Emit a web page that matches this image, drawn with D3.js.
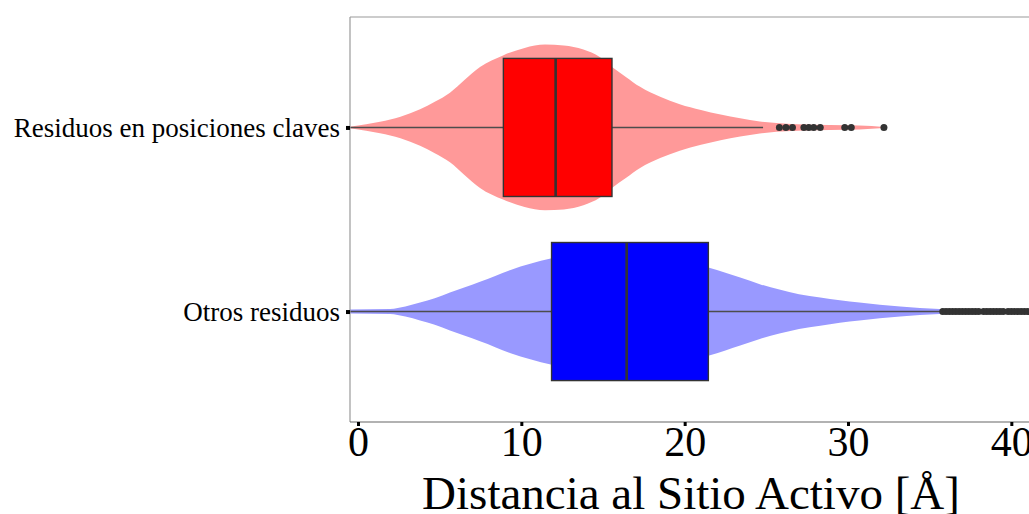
<!DOCTYPE html>
<html><head><meta charset="utf-8">
<script src="https://cdn.jsdelivr.net/npm/d3@7"></script>
<style>body{margin:0;background:#fff}svg{display:block}</style>
</head><body>
<svg id="chart" width="1029" height="514"></svg>
<script>
// ---- data ----
const categories = ["Residuos en posiciones claves", "Otros residuos"];
const boxFill = ["#ff0000", "#0000ff"];
const violinFill = ["#ff9999", "#9999ff"];
// box stats: [lowWhisker, q1, median, q3, highWhisker]
const boxStats = [
  [-0.5, 8.9, 12.1, 15.55, 24.8],
  [-0.5, 11.85, 16.45, 21.45, 35.7]
];
// outliers
const outliersKey = [25.8, 26.2, 26.6, 27.3, 27.6, 27.9, 28.3, 29.8, 30.2, 32.2];
const outliersOther = [35.8, 36.0, 36.2, 36.4, 36.6, 36.8, 37.0, 37.2, 37.4, 37.6, 37.8, 38.0,
  38.3, 38.5, 38.7, 38.9, 39.1, 39.3, 39.5, 39.8, 40.0, 40.2, 40.4, 40.6, 40.8, 41.0, 41.2, 41.4];
// violin profiles: distance value, relative density
const violinKeyX = [-0.49, 0.5, 1.35, 2.6, 3.8, 4.7, 5.63, 6.5, 7.47, 8.88, 10.2, 11.45, 12.6, 13.8, 14.8, 15.55, 16.4, 17.27, 18.5, 19.7, 21.0, 22.2, 23.4, 24.6, 26.5, 28.9, 30.7, 32.2];
const violinKeyD = [0.01, 0.04, 0.07, 0.13, 0.22, 0.31, 0.42, 0.57, 0.73, 0.87, 0.96, 1.0, 0.99, 0.94, 0.85, 0.73, 0.61, 0.49, 0.37, 0.28, 0.21, 0.155, 0.11, 0.072, 0.042, 0.03, 0.024, 0.006];
const violinOtherX = [-0.49, 1.96, 2.9, 3.8, 4.7, 5.63, 6.5, 7.47, 8.4, 9.3, 10.6, 11.8, 14.2, 16.7, 19.1, 21.5, 23.4, 24.6, 25.8, 27.0, 28.3, 29.5, 30.7, 33.2, 35.6, 38.1, 41.5];
const violinOtherD = [0.024, 0.03, 0.06, 0.108, 0.16, 0.23, 0.29, 0.36, 0.43, 0.5, 0.58, 0.64, 0.7, 0.69, 0.62, 0.53, 0.41, 0.33, 0.265, 0.21, 0.17, 0.135, 0.108, 0.06, 0.03, 0.024, 0.024];
const xTicks = [0, 10, 20, 30, 40];
const xTitle = "Distancia al Sitio Activo [Å]";

const violins = [
  violinKeyX.map((v, i) => [v, violinKeyD[i]]),
  violinOtherX.map((v, i) => [v, violinOtherD[i]])
];
const outliers = [outliersKey, outliersOther];

// ---- layout ----
const svg = d3.select("#chart");
const L = 350, T = 17, B = 422, R = 1044;
const font = "'Liberation Serif', 'Times New Roman', serif";

const x = d3.scaleLinear().domain([-0.49, 42.0]).range([L, R]);
const y = d3.scalePoint().domain(categories).range([T, B]).padding(0.6);
const step = y.step();
const w = d3.scaleLinear().domain([0, 1]).range([0, step * 0.45]);

svg.append("defs").append("clipPath").attr("id", "clip")
  .append("rect").attr("x", L).attr("y", T).attr("width", R - L).attr("height", B - T);

const g = svg.append("g").attr("clip-path", "url(#clip)");

categories.forEach((c, i) => {
  const cy = y(c);
  const area = d3.area()
    .x(d => x(d[0]))
    .y0(d => cy - w(d[1]))
    .y1(d => cy + w(d[1]))
    .curve(d3.curveMonotoneX);
  g.append("path").attr("d", area(violins[i])).attr("fill", violinFill[i]);

  const s = boxStats[i];
  const bh = step * 0.75;
  // whiskers
  g.append("line").attr("x1", x(s[0])).attr("x2", x(s[1])).attr("y1", cy).attr("y2", cy)
    .attr("stroke", "#4d4d4d").attr("stroke-width", 1.5);
  g.append("line").attr("x1", x(s[3])).attr("x2", x(s[4])).attr("y1", cy).attr("y2", cy)
    .attr("stroke", "#4d4d4d").attr("stroke-width", 1.5);
  // box
  g.append("rect").attr("x", x(s[1])).attr("y", cy - bh / 2)
    .attr("width", x(s[3]) - x(s[1])).attr("height", bh)
    .attr("fill", boxFill[i]).attr("stroke", "#333").attr("stroke-width", 1.4);
  g.append("line").attr("x1", x(s[2])).attr("x2", x(s[2]))
    .attr("y1", cy - bh / 2).attr("y2", cy + bh / 2)
    .attr("stroke", "#333").attr("stroke-width", 2.6);
  // outliers
  g.selectAll(null).data(outliers[i]).join("circle")
    .attr("cx", d => x(d)).attr("cy", cy).attr("r", 3.5).attr("fill", "#333");
});

// panel border (top & left gray)
svg.append("line").attr("x1", L).attr("x2", R).attr("y1", T).attr("y2", T).attr("stroke", "#9a9a9a").attr("stroke-width", 1.2);
svg.append("line").attr("x1", L).attr("x2", L).attr("y1", T).attr("y2", B).attr("stroke", "#9a9a9a").attr("stroke-width", 1.2);
svg.append("line").attr("x1", L).attr("x2", R).attr("y1", B).attr("y2", B).attr("stroke", "#666").attr("stroke-width", 1.2);

// x axis
const xa = svg.append("g").attr("transform", `translate(0,${B})`)
  .call(d3.axisBottom(x).tickValues(xTicks).tickFormat(d3.format("d")).tickSize(4).tickPadding(0));
xa.select(".domain").remove();
xa.selectAll(".tick line").attr("stroke", "#000").attr("stroke-width", 3);
xa.selectAll(".tick text").attr("font-family", font).attr("font-size", 42).attr("fill", "#000").attr("dy", "0.71em").attr("y", 4);

// y axis
const ya = svg.append("g").attr("transform", `translate(${L},0)`)
  .call(d3.axisLeft(y).tickSize(4).tickPadding(6));
ya.select(".domain").remove();
ya.selectAll(".tick line").attr("stroke", "#000").attr("stroke-width", 4);
ya.selectAll(".tick text").attr("font-family", font).attr("font-size", 27).attr("fill", "#000");

// x title
svg.append("text").attr("x", 691).attr("y", 509).attr("text-anchor", "middle")
  .attr("font-family", font).attr("font-size", 47).attr("fill", "#000").text(xTitle);
</script>
</body></html>
